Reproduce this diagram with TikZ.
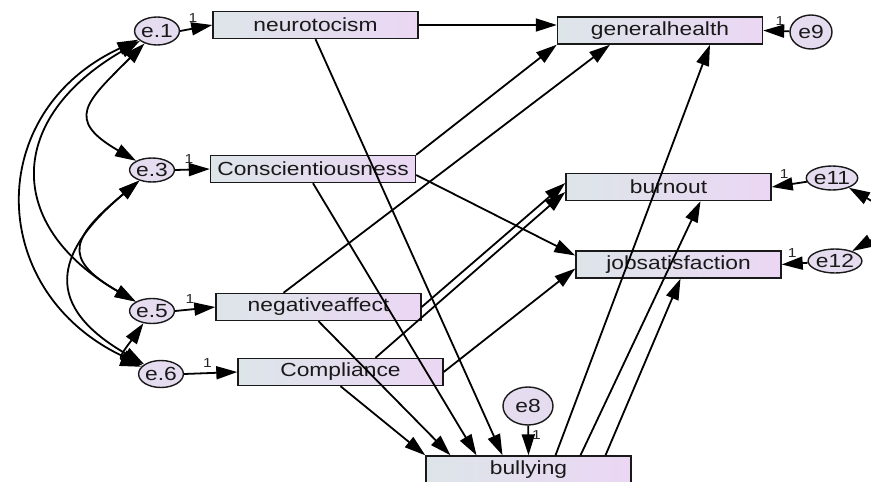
\documentclass[tikz,border=0pt]{standalone}
\usepackage{fontspec}
\newfontfamily\amosfont[FakeStretch=1.2]{Liberation Sans}
\usetikzlibrary{arrows.meta,shapes.geometric}

\definecolor{boxleft}{HTML}{DDE5E9}
\definecolor{boxright}{HTML}{EBD7F4}
\definecolor{errfill}{HTML}{E6DCF0}

\tikzset{
	obs/.style={draw=black!90,line width=1.4pt,left color=boxleft,right color=boxright,
		minimum width=205pt,minimum height=27pt,inner sep=0pt,
		font=\amosfont\fontsize{19}{19}\selectfont,text=black!90},
	err/.style={ellipse,draw=black!90,line width=1.4pt,fill=errfill,inner sep=0pt,
		font=\amosfont\fontsize{19}{19}\selectfont,text=black!90},
	reg/.style={-{Triangle[length=21pt,width=13pt]},line width=1.8pt},
	cov/.style={{Triangle[length=21pt,width=13pt]}-{Triangle[length=21pt,width=13pt]},line width=1.8pt},
	one/.style={font=\amosfont\fontsize{13}{13}\selectfont,text=black!85,inner sep=1pt}
}

\begin{document}
\begin{tikzpicture}[x=1pt,y=-1pt]
		\useasboundingbox (0,0) rectangle (871,482);

		% observed variables
		\node[obs] (neuro)  at (315.5,25)    {neurotocism};
		\node[obs] (gen)    at (660,30.5)    {generalhealth};
		\node[obs] (consc)  at (313,169)     {Conscientiousness};
		\node[obs] (negaff) at (318.5,307)   {negativeaffect};
		\node[obs] (compl)  at (340.5,372)   {Compliance};
		\node[obs] (burn)   at (668.5,187)   {burnout};
		\node[obs] (jobsat) at (678.5,264.5) {jobsatisfaction};
		\node[obs] (bully)  at (528.5,469.5) {bullying};

		% error terms
		\node[err,minimum width=35pt,minimum height=28pt] (e1)  at (157,31)  {e.1};
		\node[err,minimum width=31pt,minimum height=24pt] (e3)  at (152,170) {e.3};
		\node[err,minimum width=30pt,minimum height=25pt] (e5)  at (152,311) {e.5};
		\node[err,minimum width=36pt,minimum height=27pt] (e6)  at (161,374) {e.6};
		\node[err,minimum width=42pt,minimum height=34pt] (e9)  at (811,32)  {e9};
		\node[err,minimum width=33pt,minimum height=24pt] (e11) at (832,178) {e11};
		\node[err,minimum width=38pt,minimum height=24pt] (e12) at (835,261) {e12};
		\node[err,minimum width=50pt,minimum height=38pt] (e8)  at (528,406) {e8};

		% error paths
		\draw[reg] (e1.east) -- node[one,pos=0.4,above=4pt] {1} (neuro.west);
		\draw[reg] (e3.east) -- node[one,pos=0.4,above=4pt] {1} (consc.west);
		\draw[reg] (e5.east) -- node[one,pos=0.37,above=4pt] {1} (negaff.west);
		\draw[reg] (e6.east) -- node[one,pos=0.44,above=4pt] {1} (compl.west);
		\draw[reg] (e9) -- node[one,pos=0.36,above=4pt] {1} (gen.east);
		\draw[reg] (e11) -- node[one,pos=0.64,above=5pt] {1} (burn.east);
		\draw[reg] (e12) -- node[one,pos=0.6,above=4pt] {1} (jobsat.east);
		\draw[reg] (e8) -- node[one,pos=0.3,right=2pt] {1} (bully.north);

		% paths to bullying
		\draw[reg] (neuro.south) -- ([xshift=-26pt]bully.north);
		\draw[reg] (consc.south) -- ([xshift=-52pt]bully.north);
		\draw[reg] (negaff.south) -- ([xshift=-78pt]bully.north);
		\draw[reg] (compl.south) -- (bully.north west);

		% paths to outcomes
		\draw[reg] (neuro.east) -- (neuro.east -| gen.west);
		\draw[reg] (consc.north east) -- (gen.south west);
		\draw[reg] ([xshift=-35pt]negaff.north) -- ([xshift=-50pt]gen.south);
		\draw[reg] ([yshift=-6pt]consc.east) -- ([yshift=9pt]jobsat.west);
		\draw[reg] (negaff.east) -- ([yshift=4pt]burn.west);
		\draw[reg] ([xshift=35pt]compl.north) -- ([yshift=-5pt]burn.west);
		\draw[reg] (compl.east) -- ([yshift=-4pt]jobsat.west);
		\draw[reg] ([xshift=27pt]bully.north) -- ([xshift=50pt]gen.south);
		\draw[reg] ([xshift=52pt]bully.north) -- ([xshift=32pt]burn.south);
		\draw[reg] ([xshift=77pt]bully.north) -- ([xshift=2pt]jobsat.south);

		% covariances
		\draw[cov] (e1) to[out=225,in=150,looseness=1.8] (e3);
		\draw[cov] (e1) to[out=210,in=150,looseness=1.5] (e5);
		\draw[cov] (e1) to[out=205,in=155,looseness=1.35] (e6);
		\draw[cov] (e3) to[out=220,in=150,looseness=1.85] (e5);
		\draw[cov] (e3) to[out=220,in=150,looseness=1.6] (e6);
		\draw[cov] (e5) to[out=235,in=160,looseness=1.5] (e6);
		\draw[cov] (e11) to[out=-30,in=30,looseness=2] (e12);
	\end{tikzpicture}
\end{document}
